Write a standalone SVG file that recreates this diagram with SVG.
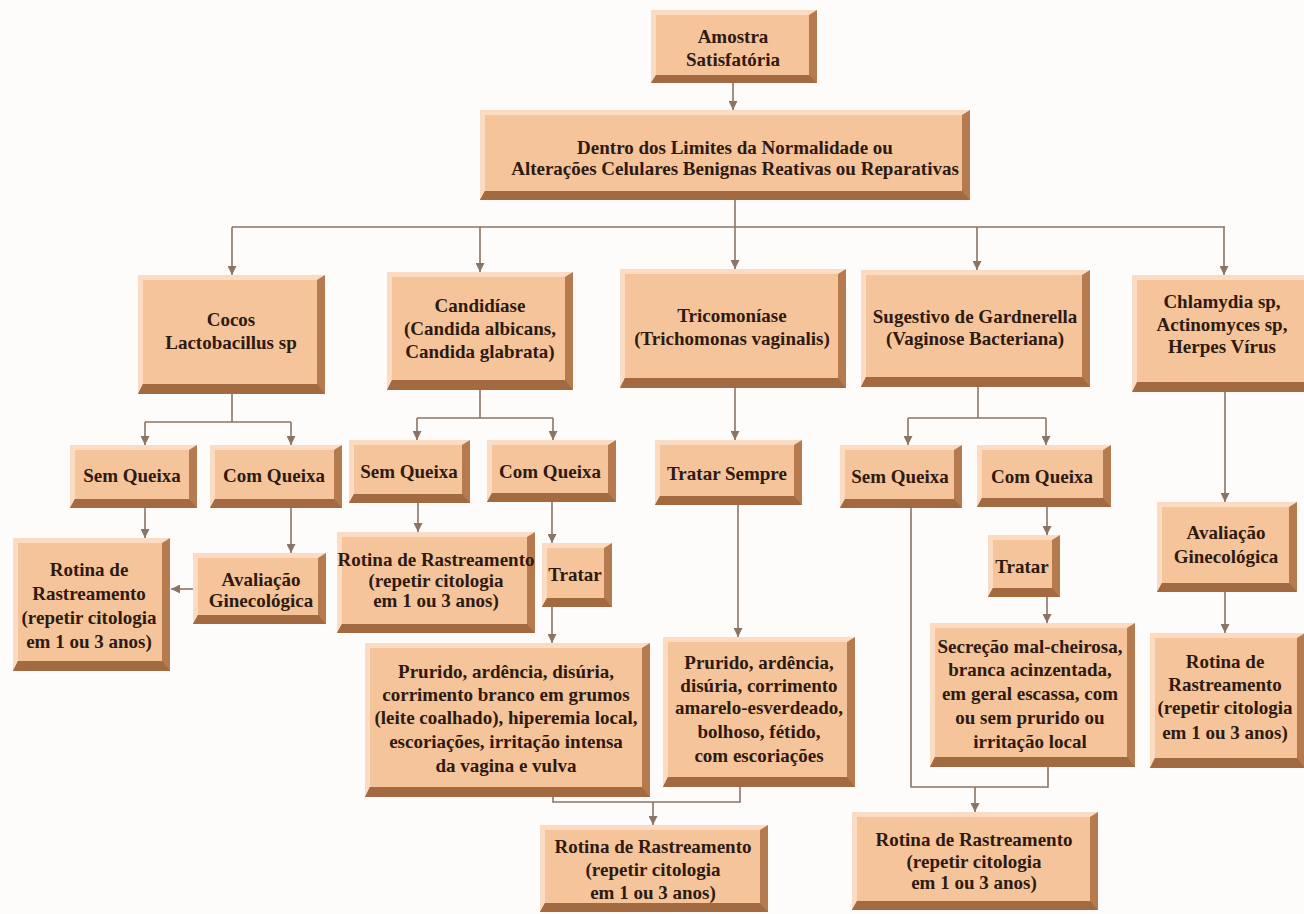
<svg xmlns="http://www.w3.org/2000/svg" width="1304" height="914" viewBox="0 0 1304 914">
  <defs>
    <style>
      .bg { fill: #fdfcfa; }
      .hl { fill: #fbdcc2; }
      .face { fill: #f5c49a; }
      .sh { fill: #b57b4e; }
      .sb { fill: #a36a41; }
      .t { font-family: "Liberation Serif", "DejaVu Serif", serif; font-weight: bold; font-size: 19px; fill: #2e1a10; text-anchor: middle; }
      .c { fill: none; stroke: #8a7466; stroke-width: 1.6; }
      .a { fill: none; stroke: #8a7466; stroke-width: 1.6; marker-end: url(#arr); }
    </style>
    <marker id="arr" viewBox="0 0 10 10" refX="10" refY="5" markerWidth="11" markerHeight="9" markerUnits="userSpaceOnUse" orient="auto">
      <path d="M0,0 L10,5 L0,10 z" fill="#8a7466"/>
    </marker>
  </defs>

  <rect class="bg" x="0" y="0" width="1304" height="914"/>

  <!-- connectors -->
  <g id="connectors">
    <path class="a" d="M733,83 V110"/>
    <path class="c" d="M232,227 H1225"/>
    <path class="a" d="M735,200 V269"/>
    <path class="a" d="M232,227 V275"/>
    <path class="a" d="M480,227 V272"/>
    <path class="a" d="M977,227 V270"/>
    <path class="a" d="M1224,227 V275"/>

    <path class="c" d="M232,394 V422 M145,422 H291"/>
    <path class="a" d="M145,422 V445"/>
    <path class="a" d="M291,422 V445"/>

    <path class="c" d="M480,390 V418 M417,418 H553"/>
    <path class="a" d="M417,418 V440"/>
    <path class="a" d="M553,418 V440"/>

    <path class="a" d="M735,388 V440"/>

    <path class="c" d="M978,387 V418 M908,418 H1046"/>
    <path class="a" d="M908,418 V445"/>
    <path class="a" d="M1046,418 V445"/>

    <path class="a" d="M1225,392 V502"/>

    <path class="a" d="M145,508 V538"/>
    <path class="a" d="M291,508 V553"/>
    <path class="a" d="M193,589 H171"/>

    <path class="a" d="M418,503 V532"/>
    <path class="a" d="M552,502 V543"/>
    <path class="a" d="M552,607 V643"/>

    <path class="a" d="M738,505 V637"/>

    <path class="c" d="M553,797 V802 H740 V787"/>
    <path class="a" d="M653,802 V825"/>

    <path class="c" d="M911,508 V787 H1048 V767"/>
    <path class="a" d="M975,787 V812"/>

    <path class="a" d="M1047,507 V535"/>
    <path class="a" d="M1047,597 V623"/>

    <path class="a" d="M1225,592 V633"/>
  </g>

  <!-- level 0 -->
  <g id="n-amostra">
    <rect class="hl" x="651" y="10" width="166" height="73"/>
    <polygon class="sh" points="817,10 817,83 651,83 656,75 809,75 809,15"/>
    <polygon class="sb" points="817,83 651,83 656,75 809,75"/>
    <rect class="face" x="656" y="15" width="153" height="60"/>
    <text class="t" x="733" y="43">Amostra</text>
    <text class="t" x="733" y="66">Satisfatória</text>
  </g>

  <g id="n-normal">
    <rect class="hl" x="480" y="110" width="490" height="90"/>
    <polygon class="sh" points="970,110 970,200 480,200 485,191 962,191 962,115"/>
    <polygon class="sb" points="970,200 480,200 485,191 962,191"/>
    <rect class="face" x="485" y="115" width="477" height="76"/>
    <text class="t" x="735" y="154">Dentro dos Limites da Normalidade ou</text>
    <text class="t" x="735" y="175">Alterações Celulares Benignas Reativas ou Reparativas</text>
  </g>

  <!-- level 1 -->
  <g id="n-cocos">
    <rect class="hl" x="138" y="275" width="187" height="119"/>
    <polygon class="sh" points="325,275 325,394 138,394 143,384 317,384 317,280"/>
    <polygon class="sb" points="325,394 138,394 143,384 317,384"/>
    <rect class="face" x="143" y="280" width="174" height="104"/>
    <text class="t" x="231" y="326">Cocos</text>
    <text class="t" x="231" y="349">Lactobacillus sp</text>
  </g>

  <g id="n-candidiase">
    <rect class="hl" x="387" y="272" width="186" height="118"/>
    <polygon class="sh" points="573,272 573,390 387,390 392,380 565,380 565,277"/>
    <polygon class="sb" points="573,390 387,390 392,380 565,380"/>
    <rect class="face" x="392" y="277" width="173" height="103"/>
    <text class="t" x="480" y="312">Candidíase</text>
    <text class="t" x="480" y="335">(Candida albicans,</text>
    <text class="t" x="480" y="358">Candida glabrata)</text>
  </g>

  <g id="n-tricomoniase">
    <rect class="hl" x="620" y="269" width="226" height="119"/>
    <polygon class="sh" points="846,269 846,388 620,388 625,378 838,378 838,274"/>
    <polygon class="sb" points="846,388 620,388 625,378 838,378"/>
    <rect class="face" x="625" y="274" width="213" height="104"/>
    <text class="t" x="732" y="322">Tricomoníase</text>
    <text class="t" x="732" y="345">(Trichomonas vaginalis)</text>
  </g>

  <g id="n-gardnerella">
    <rect class="hl" x="861" y="270" width="229" height="117"/>
    <polygon class="sh" points="1090,270 1090,387 861,387 866,377 1082,377 1082,275"/>
    <polygon class="sb" points="1090,387 861,387 866,377 1082,377"/>
    <rect class="face" x="866" y="275" width="216" height="102"/>
    <text class="t" x="975" y="323">Sugestivo de Gardnerella</text>
    <text class="t" x="975" y="345">(Vaginose Bacteriana)</text>
  </g>

  <g id="n-chlamydia">
    <rect class="hl" x="1132" y="275" width="180" height="117"/>
    <polygon class="sb" points="1312,392 1132,392 1137,382 1312,382"/>
    <rect class="face" x="1137" y="280" width="175" height="102"/>
    <text class="t" x="1222" y="308">Chlamydia sp,</text>
    <text class="t" x="1222" y="331">Actinomyces sp,</text>
    <text class="t" x="1222" y="353">Herpes Vírus</text>
  </g>

  <!-- level 2 -->
  <g id="n-cocos-sem">
    <rect class="hl" x="70" y="445" width="127" height="63"/>
    <polygon class="sh" points="197,445 197,508 70,508 75,499 189,499 189,450"/>
    <polygon class="sb" points="197,508 70,508 75,499 189,499"/>
    <rect class="face" x="75" y="450" width="114" height="49"/>
    <text class="t" x="132" y="482">Sem Queixa</text>
  </g>

  <g id="n-cocos-com">
    <rect class="hl" x="210" y="445" width="132" height="63"/>
    <polygon class="sh" points="342,445 342,508 210,508 215,499 334,499 334,450"/>
    <polygon class="sb" points="342,508 210,508 215,499 334,499"/>
    <rect class="face" x="215" y="450" width="119" height="49"/>
    <text class="t" x="274" y="482">Com Queixa</text>
  </g>

  <g id="n-candida-sem">
    <rect class="hl" x="349" y="440" width="121" height="63"/>
    <polygon class="sh" points="470,440 470,503 349,503 354,494 462,494 462,445"/>
    <polygon class="sb" points="470,503 349,503 354,494 462,494"/>
    <rect class="face" x="354" y="445" width="108" height="49"/>
    <text class="t" x="409" y="478">Sem Queixa</text>
  </g>

  <g id="n-candida-com">
    <rect class="hl" x="487" y="440" width="129" height="62"/>
    <polygon class="sh" points="616,440 616,502 487,502 492,493 608,493 608,445"/>
    <polygon class="sb" points="616,502 487,502 492,493 608,493"/>
    <rect class="face" x="492" y="445" width="116" height="48"/>
    <text class="t" x="550" y="478">Com Queixa</text>
  </g>

  <g id="n-tratar-sempre">
    <rect class="hl" x="655" y="440" width="147" height="65"/>
    <polygon class="sh" points="802,440 802,505 655,505 660,496 794,496 794,445"/>
    <polygon class="sb" points="802,505 655,505 660,496 794,496"/>
    <rect class="face" x="660" y="445" width="134" height="51"/>
    <text class="t" x="727" y="480">Tratar Sempre</text>
  </g>

  <g id="n-gardnerella-sem">
    <rect class="hl" x="840" y="445" width="122" height="63"/>
    <polygon class="sh" points="962,445 962,508 840,508 845,499 954,499 954,450"/>
    <polygon class="sb" points="962,508 840,508 845,499 954,499"/>
    <rect class="face" x="845" y="450" width="109" height="49"/>
    <text class="t" x="900" y="483">Sem Queixa</text>
  </g>

  <g id="n-gardnerella-com">
    <rect class="hl" x="977" y="445" width="134" height="62"/>
    <polygon class="sh" points="1111,445 1111,507 977,507 982,498 1103,498 1103,450"/>
    <polygon class="sb" points="1111,507 977,507 982,498 1103,498"/>
    <rect class="face" x="982" y="450" width="121" height="48"/>
    <text class="t" x="1042" y="483">Com Queixa</text>
  </g>

  <!-- level 3 -->
  <g id="n-cocos-rotina">
    <rect class="hl" x="13" y="538" width="157" height="133"/>
    <polygon class="sh" points="170,538 170,671 13,671 18,661 162,661 162,543"/>
    <polygon class="sb" points="170,671 13,671 18,661 162,661"/>
    <rect class="face" x="18" y="543" width="144" height="118"/>
    <text class="t" x="89" y="576">Rotina de</text>
    <text class="t" x="89" y="600">Rastreamento</text>
    <text class="t" x="89" y="624">(repetir citologia</text>
    <text class="t" x="89" y="648">em 1 ou 3 anos)</text>
  </g>

  <g id="n-cocos-avaliacao">
    <rect class="hl" x="193" y="553" width="133" height="71"/>
    <polygon class="sh" points="326,553 326,624 193,624 198,615 318,615 318,558"/>
    <polygon class="sb" points="326,624 193,624 198,615 318,615"/>
    <rect class="face" x="198" y="558" width="120" height="57"/>
    <text class="t" x="261" y="586">Avaliação</text>
    <text class="t" x="261" y="607">Ginecológica</text>
  </g>

  <g id="n-candida-rotina">
    <rect class="hl" x="337" y="532" width="198" height="101"/>
    <polygon class="sh" points="535,532 535,633 337,633 342,624 527,624 527,537"/>
    <polygon class="sb" points="535,633 337,633 342,624 527,624"/>
    <rect class="face" x="342" y="537" width="185" height="87"/>
    <text class="t" x="436" y="566">Rotina de Rastreamento</text>
    <text class="t" x="436" y="587">(repetir citologia</text>
    <text class="t" x="436" y="607">em 1 ou 3 anos)</text>
  </g>

  <g id="n-candida-tratar">
    <rect class="hl" x="542" y="543" width="70" height="64"/>
    <polygon class="sh" points="612,543 612,607 542,607 547,598 604,598 604,548"/>
    <polygon class="sb" points="612,607 542,607 547,598 604,598"/>
    <rect class="face" x="547" y="548" width="57" height="50"/>
    <text class="t" x="575" y="581">Tratar</text>
  </g>

  <g id="n-candida-sintomas">
    <rect class="hl" x="365" y="643" width="285" height="154"/>
    <polygon class="sh" points="650,643 650,797 365,797 370,787 642,787 642,648"/>
    <polygon class="sb" points="650,797 365,797 370,787 642,787"/>
    <rect class="face" x="370" y="648" width="272" height="139"/>
    <text class="t" x="506" y="678">Prurido, ardência, disúria,</text>
    <text class="t" x="506" y="701">corrimento branco em grumos</text>
    <text class="t" x="506" y="724">(leite coalhado), hiperemia local,</text>
    <text class="t" x="506" y="748">escoriações, irritação intensa</text>
    <text class="t" x="506" y="772">da vagina e vulva</text>
  </g>

  <g id="n-tricomoniase-sintomas">
    <rect class="hl" x="663" y="637" width="192" height="150"/>
    <polygon class="sh" points="855,637 855,787 663,787 668,777 847,777 847,642"/>
    <polygon class="sb" points="855,787 663,787 668,777 847,777"/>
    <rect class="face" x="668" y="642" width="179" height="135"/>
    <text class="t" x="759" y="669">Prurido, ardência,</text>
    <text class="t" x="759" y="692">disúria, corrimento</text>
    <text class="t" x="759" y="714">amarelo-esverdeado,</text>
    <text class="t" x="759" y="738">bolhoso, fétido,</text>
    <text class="t" x="759" y="762">com escoriações</text>
  </g>

  <g id="n-gardnerella-tratar">
    <rect class="hl" x="988" y="535" width="72" height="62"/>
    <polygon class="sh" points="1060,535 1060,597 988,597 993,588 1052,588 1052,540"/>
    <polygon class="sb" points="1060,597 988,597 993,588 1052,588"/>
    <rect class="face" x="993" y="540" width="59" height="48"/>
    <text class="t" x="1022" y="573">Tratar</text>
  </g>

  <g id="n-gardnerella-sintomas">
    <rect class="hl" x="930" y="623" width="205" height="144"/>
    <polygon class="sh" points="1135,623 1135,767 930,767 935,757 1127,757 1127,628"/>
    <polygon class="sb" points="1135,767 930,767 935,757 1127,757"/>
    <rect class="face" x="935" y="628" width="192" height="129"/>
    <text class="t" x="1030" y="653">Secreção mal-cheirosa,</text>
    <text class="t" x="1030" y="676">branca acinzentada,</text>
    <text class="t" x="1030" y="700">em geral escassa, com</text>
    <text class="t" x="1030" y="724">ou  sem prurido ou</text>
    <text class="t" x="1030" y="748">irritação local</text>
  </g>

  <g id="n-chlamydia-avaliacao">
    <rect class="hl" x="1157" y="502" width="140" height="90"/>
    <polygon class="sh" points="1297,502 1297,592 1157,592 1162,583 1289,583 1289,507"/>
    <polygon class="sb" points="1297,592 1157,592 1162,583 1289,583"/>
    <rect class="face" x="1162" y="507" width="127" height="76"/>
    <text class="t" x="1226" y="539">Avaliação</text>
    <text class="t" x="1226" y="563">Ginecológica</text>
  </g>

  <g id="n-chlamydia-rotina">
    <rect class="hl" x="1150" y="633" width="155" height="135"/>
    <polygon class="sh" points="1305,633 1305,768 1150,768 1155,758 1297,758 1297,638"/>
    <polygon class="sb" points="1305,768 1150,768 1155,758 1297,758"/>
    <rect class="face" x="1155" y="638" width="142" height="120"/>
    <text class="t" x="1225" y="668">Rotina de</text>
    <text class="t" x="1225" y="691">Rastreamento</text>
    <text class="t" x="1225" y="714">(repetir citologia</text>
    <text class="t" x="1225" y="739">em 1 ou 3 anos)</text>
  </g>

  <!-- level 4 -->
  <g id="n-rotina-centro">
    <rect class="hl" x="540" y="825" width="228" height="87"/>
    <polygon class="sh" points="768,825 768,912 540,912 545,903 760,903 760,830"/>
    <polygon class="sb" points="768,912 540,912 545,903 760,903"/>
    <rect class="face" x="545" y="830" width="215" height="73"/>
    <text class="t" x="653" y="853">Rotina de Rastreamento</text>
    <text class="t" x="653" y="876">(repetir citologia</text>
    <text class="t" x="653" y="899">em 1 ou 3 anos)</text>
  </g>

  <g id="n-rotina-direita">
    <rect class="hl" x="852" y="812" width="246" height="98"/>
    <polygon class="sh" points="1098,812 1098,910 852,910 857,901 1090,901 1090,817"/>
    <polygon class="sb" points="1098,910 852,910 857,901 1090,901"/>
    <rect class="face" x="857" y="817" width="233" height="84"/>
    <text class="t" x="974" y="846">Rotina de Rastreamento</text>
    <text class="t" x="974" y="868">(repetir citologia</text>
    <text class="t" x="974" y="889">em 1 ou 3 anos)</text>
  </g>
</svg>
